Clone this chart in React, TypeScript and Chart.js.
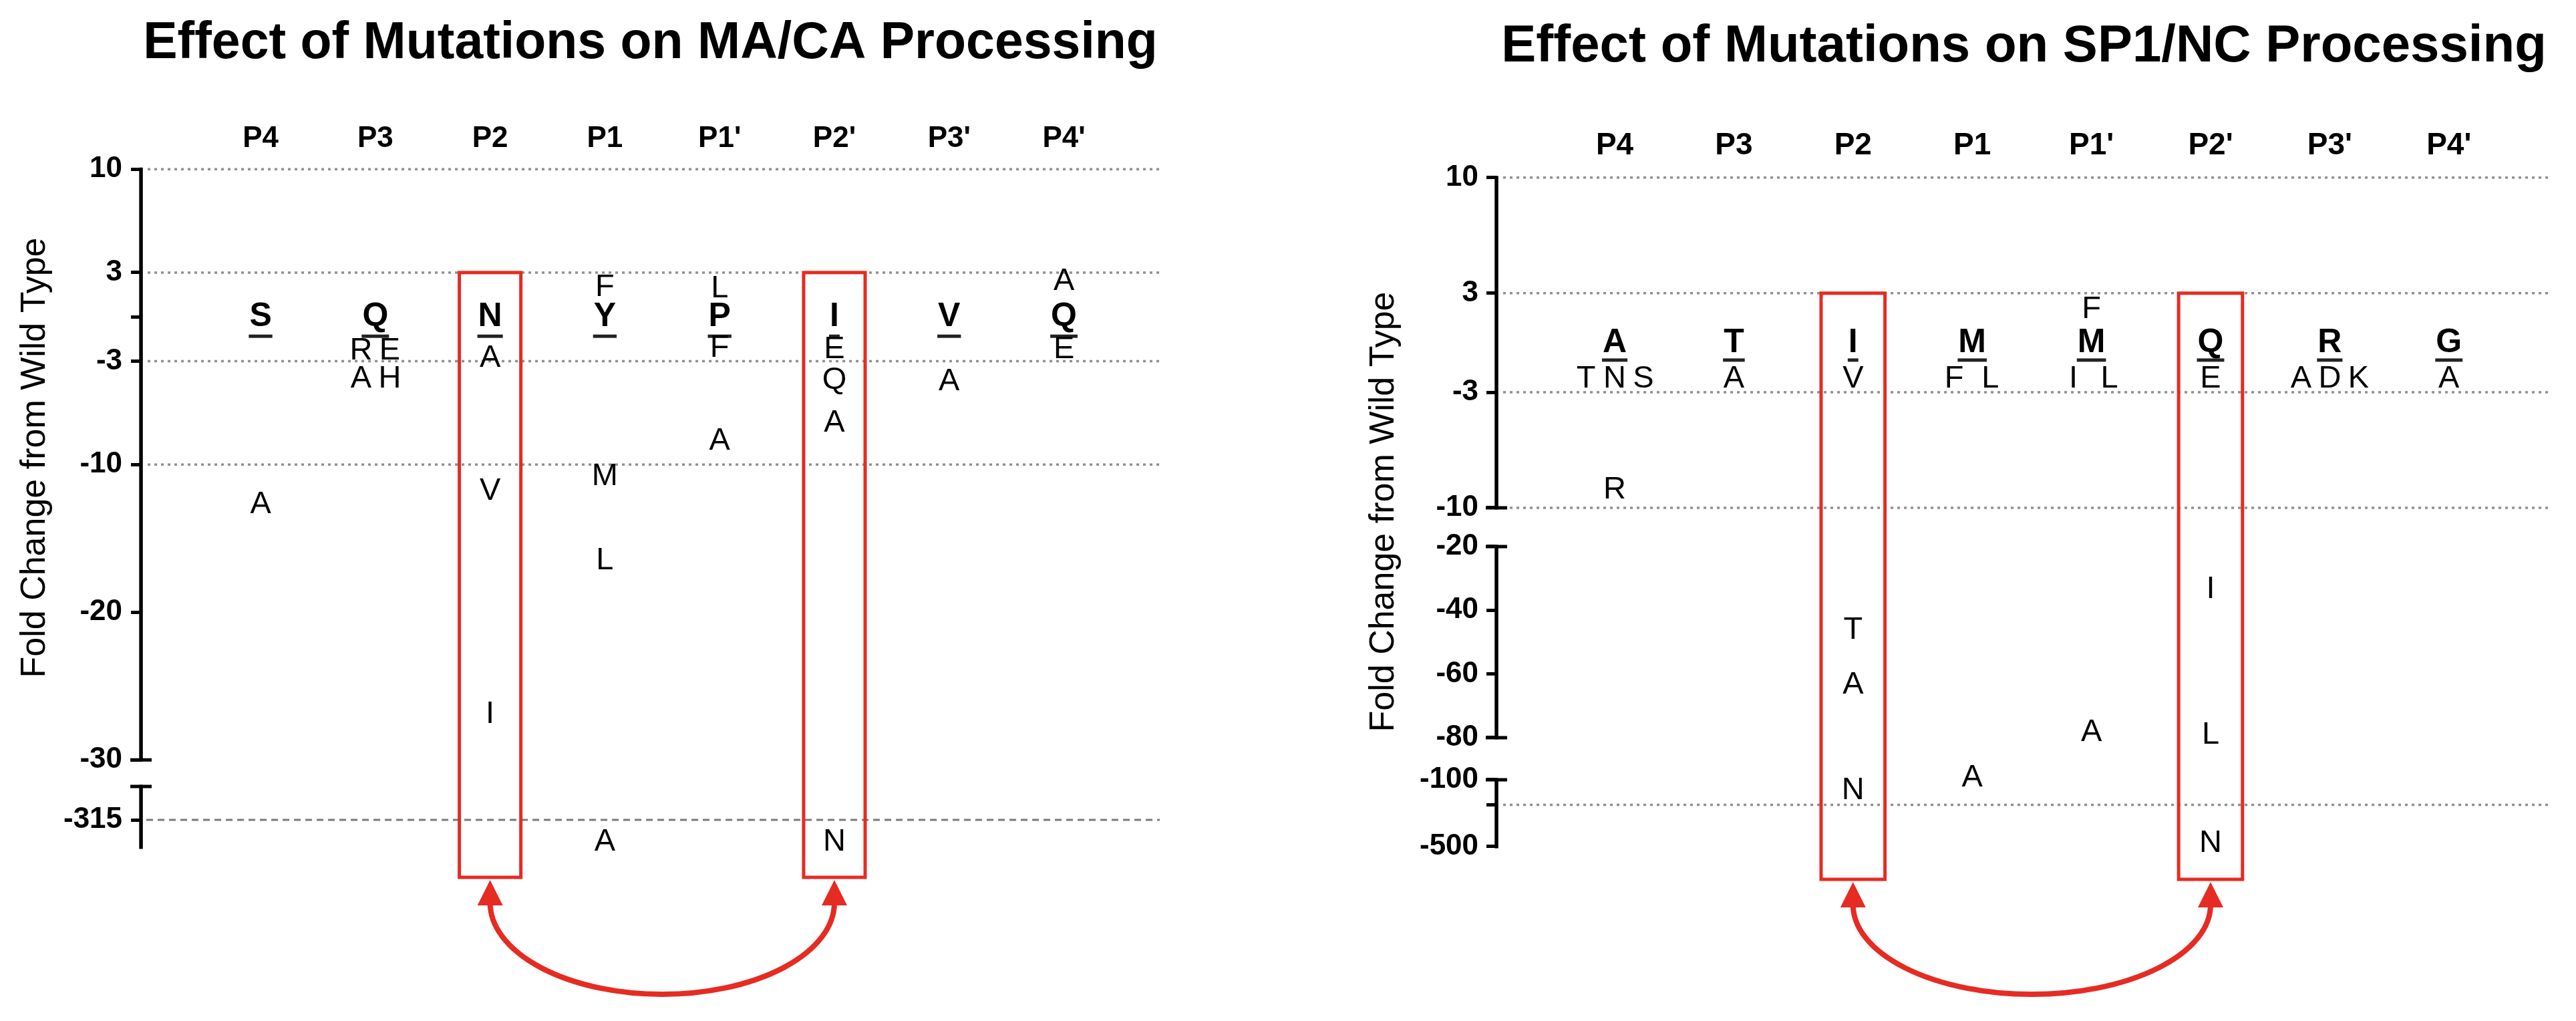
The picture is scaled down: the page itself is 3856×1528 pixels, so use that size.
import React, { useEffect, useRef } from 'react';
import { Chart, registerables } from 'chart.js';

Chart.register(...registerables);

const FONT = '"Liberation Sans", Arial, Helvetica, sans-serif';

// ---------- shared categories ----------
const POSITIONS = ['P4', 'P3', 'P2', 'P1', "P1'", "P2'", "P3'", "P4'"];
const SITE_INDEX = [1, 2, 3, 4, 5, 6, 7, 8];
const WT_LEVEL = 0;

// ---------- MA/CA panel data ----------
const MACA_WT = ['S', 'Q', 'N', 'Y', 'P', 'I', 'V', 'Q'];
const MACA_MUT_POS = [1, 2, 2, 2, 2, 3, 3, 3, 4, 4, 4, 4, 5, 5, 5, 6, 6, 6, 6, 7, 8, 8];
const MACA_MUT_RES = ['A', 'R', 'E', 'A', 'H', 'A', 'V', 'I', 'F', 'M', 'L', 'A', 'L', 'F', 'A', 'E', 'Q', 'A', 'N', 'A', 'A', 'E'];
const MACA_MUT_FOLD = [-12.7, -2.3, -2.3, -4.2, -4.2, -2.8, -11.8, -26.9, 2.0, -10.8, -16.5, -325, 1.9, -2.1, -8.4, -2.2, -4.3, -7.2, -325, -4.4, 2.4, -2.2];
const MACA_TICKS_UPPER = [10, 3, 0, -3, -10, -20, -30];
const MACA_TICKS_LOWER = [-315];
const MACA_DOTTED = [10, 3, -3, -10];
const MACA_DASHED = [-315];

// ---------- SP1/NC panel data ----------
const SPNC_WT = ['A', 'T', 'I', 'M', 'M', 'Q', 'R', 'G'];
const SPNC_MUT_POS = [1, 1, 1, 1, 2, 3, 3, 3, 3, 4, 4, 4, 5, 5, 5, 5, 6, 6, 6, 6, 7, 7, 7, 8];
const SPNC_MUT_RES = ['T', 'N', 'S', 'R', 'A', 'V', 'T', 'A', 'N', 'F', 'L', 'A', 'F', 'I', 'L', 'A', 'E', 'I', 'L', 'N', 'A', 'D', 'K', 'A'];
const SPNC_MUT_FOLD = [-2.2, -2.2, -2.2, -8.9, -2.2, -2.2, -46.2, -63.4, -164, -2.2, -2.2, -92.6, 2.0, -2.2, -2.2, -78.3, -2.2, -33.4, -79.2, -480, -2.2, -2.2, -2.2, -2.2];
const SPNC_TICKS_1 = [10, 3, -3, -10];
const SPNC_TICKS_2 = [-20, -40, -60, -80];
const SPNC_TICKS_3 = [-100, -250, -500];
const SPNC_DOTTED_1 = [10, 3, -3, -10];
const SPNC_DOTTED_3 = [-250];

const HIGHLIGHT_SITES = [3, 6];

type Seg = {
  id: string; min: number; max: number; weight: number;
  ticks: number[]; unlabeled: number[];
  line: [number, number]; caps: number[];
  dotted: number[]; dashed: number[];
};

type PanelCfg = {
  title: string; titleSize: number; titlePad: { top: number; bottom: number };
  xMin: number; xMax: number; xLabelSize: number; xPad: number;
  pad: { left: number; right: number; top: number; bottom: number };
  tickPad: number;
  wt: string[]; mutPos: number[]; mutRes: string[]; mutFold: number[];
  segs: Seg[];
  highlight: number[];
  yTitle: string; yTitleAt: [number, number];
  underlineOffset: number; pairGap: number; groupGap: number;
};

const MACA_PANEL: PanelCfg = {
  title: 'Effect of Mutations on MA/CA Processing', titleSize: 77, titlePad: { top: 20, bottom: 50 },
  xMin: -0.042, xMax: 8.835, xLabelSize: 44, xPad: 19,
  pad: { left: 82, right: 192, top: 0, bottom: 260 },
  tickPad: 13,
  wt: MACA_WT, mutPos: MACA_MUT_POS, mutRes: MACA_MUT_RES, mutFold: MACA_MUT_FOLD,
  segs: [
    { id: 'y1', min: -30.9, max: 10, weight: 904, ticks: MACA_TICKS_UPPER, unlabeled: [0], line: [10, -30], caps: [-30], dotted: MACA_DOTTED, dashed: [] },
    { id: 'y2', min: -327.3, max: -294, weight: 111, ticks: MACA_TICKS_LOWER, unlabeled: [], line: [-300, -327.3], caps: [-300], dotted: [], dashed: MACA_DASHED },
  ],
  highlight: HIGHLIGHT_SITES,
  yTitle: 'Fold Change from Wild Type', yTitleAt: [53, 685],
  underlineOffset: 29, pairGap: 43, groupGap: 43,
};

const SPNC_PANEL: PanelCfg = {
  title: 'Effect of Mutations on SP1/NC Processing', titleSize: 78, titlePad: { top: 24, bottom: 53 },
  xMin: 0.008, xMax: 8.859, xLabelSize: 46, xPad: 20,
  pad: { left: 185, right: 37, top: 0, bottom: 257 },
  tickPad: 12,
  wt: SPNC_WT, mutPos: SPNC_MUT_POS, mutRes: SPNC_MUT_RES, mutFold: SPNC_MUT_FOLD,
  segs: [
    { id: 'y1', min: -11.17, max: 10, weight: 523, ticks: SPNC_TICKS_1, unlabeled: [], line: [10, -10], caps: [-10], dotted: SPNC_DOTTED_1, dashed: [] },
    { id: 'y2', min: -93.0, max: -13.92, weight: 377, ticks: SPNC_TICKS_2, unlabeled: [], line: [-20, -80], caps: [-20, -80], dotted: [], dashed: [] },
    { id: 'y3', min: -516, max: -96, weight: 105, ticks: SPNC_TICKS_3, unlabeled: [-250], line: [-100, -500], caps: [-100], dotted: SPNC_DOTTED_3, dashed: [] },
  ],
  highlight: HIGHLIGHT_SITES,
  yTitle: 'Fold Change from Wild Type', yTitleAt: [144, 766],
  underlineOffset: 26, pairGap: 54, groupGap: 43,
};

const RED = '#e62b22';

function makePlugin(cfg: PanelCfg) {
  const line = (ctx: CanvasRenderingContext2D, x1: number, y1: number, x2: number, y2: number) => {
    ctx.beginPath(); ctx.moveTo(x1, y1); ctx.lineTo(x2, y2); ctx.stroke();
  };
  return {
    id: 'foldDecor',
    beforeDatasetsDraw(chart: any) {
      const ctx: CanvasRenderingContext2D = chart.ctx;
      const ca = chart.chartArea;
      ctx.save();
      for (const seg of cfg.segs) {
        const sc = chart.scales[seg.id];
        ctx.strokeStyle = '#8f8f8f'; ctx.lineWidth = 3.5; ctx.setLineDash([4, 6]);
        for (const v of seg.dotted) { const y = sc.getPixelForValue(v); line(ctx, ca.left + 10, y, ca.right, y); }
        ctx.strokeStyle = '#7a7a7a'; ctx.lineWidth = 3; ctx.setLineDash([10, 7]);
        for (const v of seg.dashed) { const y = sc.getPixelForValue(v); line(ctx, ca.left + 8, y, ca.right, y); }
      }
      ctx.setLineDash([]);
      const xs = chart.scales.x;
      const top = chart.scales[cfg.segs[0].id].getPixelForValue(3);
      const spacing = xs.getPixelForValue(2) - xs.getPixelForValue(1);
      const hw = spacing * 0.268;
      const bottom = ca.bottom + 45;
      ctx.strokeStyle = RED; ctx.lineWidth = 5;
      for (const p of cfg.highlight) {
        const cx = xs.getPixelForValue(p);
        ctx.strokeRect(cx - hw, top, hw * 2, bottom - top);
      }
      ctx.strokeStyle = '#000';
      for (const seg of cfg.segs) {
        const sc = chart.scales[seg.id];
        const y0 = sc.getPixelForValue(seg.line[0]);
        const y1 = sc.getPixelForValue(seg.line[1]);
        ctx.lineWidth = 5.5;
        line(ctx, ca.left, y0 - 2.5, ca.left, y1 + 2.5);
        ctx.lineWidth = 5;
        for (const c of seg.caps) { const y = sc.getPixelForValue(c); line(ctx, ca.left - 16, y, ca.left + 16, y); }
      }
      ctx.restore();
    },
    afterDatasetsDraw(chart: any) {
      const ctx: CanvasRenderingContext2D = chart.ctx;
      ctx.save();
      ctx.textAlign = 'center'; ctx.textBaseline = 'middle';
      chart.data.datasets.forEach((ds: any, di: number) => {
        const meta = chart.getDatasetMeta(di);
        const groups = new Map<string, number[]>();
        ds.data.forEach((p: any, i: number) => {
          const k = p.x + '|' + p.y;
          if (!groups.has(k)) groups.set(k, []);
          groups.get(k)!.push(i);
        });
        ctx.font = ds.isWT ? `bold 50px ${FONT}` : `47px ${FONT}`;
        groups.forEach((ids) => {
          const n = ids.length;
          const gap = n === 2 ? cfg.pairGap : cfg.groupGap;
          ids.forEach((i, k) => {
            const el = meta.data[i];
            const x = el.x + (k - (n - 1) / 2) * gap;
            const y = el.y;
            const txt = ds.residues[i];
            ctx.fillStyle = '#000';
            ctx.fillText(txt, x, y);
            if (ds.isWT) {
              const w = ctx.measureText(txt).width;
              ctx.fillStyle = '#222';
              ctx.fillRect(x - w / 2 - 1, y + cfg.underlineOffset - 2.5, w + 2, 5);
            }
          });
        });
      });
      ctx.restore();
    },
    afterDraw(chart: any) {
      const ctx: CanvasRenderingContext2D = chart.ctx;
      const ca = chart.chartArea;
      const xs = chart.scales.x;
      ctx.save();
      const xa = xs.getPixelForValue(cfg.highlight[0]);
      const xb = xs.getPixelForValue(cfg.highlight[1]);
      const tipY = ca.bottom + 49;
      const headLen = 38, headHalf = 19;
      const cy = tipY + headLen - 4;
      const ry = 1488 - cy;
      ctx.strokeStyle = RED; ctx.fillStyle = RED; ctx.lineWidth = 8;
      ctx.beginPath();
      ctx.ellipse((xa + xb) / 2, cy, (xb - xa) / 2, ry, 0, 0, Math.PI);
      ctx.stroke();
      for (const x of [xa, xb]) {
        ctx.beginPath();
        ctx.moveTo(x, tipY);
        ctx.lineTo(x + headHalf, tipY + headLen);
        ctx.lineTo(x - headHalf, tipY + headLen);
        ctx.closePath();
        ctx.fill();
      }
      ctx.fillStyle = '#000';
      ctx.font = `52px ${FONT}`;
      ctx.textAlign = 'center'; ctx.textBaseline = 'middle';
      ctx.translate(cfg.yTitleAt[0], cfg.yTitleAt[1]);
      ctx.rotate(-Math.PI / 2);
      ctx.fillText(cfg.yTitle, 0, 0);
      ctx.restore();
    },
  };
}

function buildConfig(cfg: PanelCfg): any {
  const datasets: any[] = [];
  datasets.push({
    label: 'Wild type', isWT: true,
    data: cfg.wt.map((_, i) => ({ x: SITE_INDEX[i], y: WT_LEVEL })),
    residues: cfg.wt, yAxisID: cfg.segs[0].id, pointRadius: 0, pointHoverRadius: 0, showLine: false,
  });
  cfg.segs.forEach((seg) => {
    const idx = cfg.mutFold.map((_, i) => i).filter((i) => cfg.mutFold[i] >= seg.min && cfg.mutFold[i] <= seg.max);
    if (!idx.length) return;
    datasets.push({
      label: 'Mutants ' + seg.id, isWT: false,
      data: idx.map((i) => ({ x: cfg.mutPos[i], y: cfg.mutFold[i] })),
      residues: idx.map((i) => cfg.mutRes[i]),
      yAxisID: seg.id, pointRadius: 0, pointHoverRadius: 0, showLine: false,
    });
  });
  const scales: any = {
    x: {
      type: 'linear', position: 'top', min: cfg.xMin, max: cfg.xMax,
      grid: { display: false, drawTicks: false }, border: { display: false },
      afterBuildTicks: (s: any) => { s.ticks = SITE_INDEX.map((v) => ({ value: v })); },
      ticks: {
        autoSkip: false, maxRotation: 0, padding: cfg.xPad, color: '#000',
        font: { family: FONT, size: cfg.xLabelSize, weight: 'bold' },
        callback: (v: number) => POSITIONS[Math.round(v) - 1] ?? '',
      },
    },
  };
  // stacked left axes are placed top-down in reverse definition order, so define the lowest segment first
  [...cfg.segs].reverse().forEach((seg) => {
    scales[seg.id] = {
      type: 'linear', position: 'left', stack: 'fold', stackWeight: seg.weight,
      min: seg.min, max: seg.max,
      border: { display: false },
      grid: { display: true, drawOnChartArea: false, drawTicks: true, tickLength: 15, tickWidth: 5, tickColor: '#000' },
      afterBuildTicks: (s: any) => { s.ticks = seg.ticks.map((v) => ({ value: v })); },
      ticks: {
        autoSkip: false, padding: cfg.tickPad, color: '#000',
        font: { family: FONT, size: 44, weight: 'bold' },
        callback: (v: number) => (seg.unlabeled.includes(v) ? '' : String(v)),
      },
    };
  });
  return {
    type: 'scatter',
    data: { datasets },
    options: {
      responsive: false, maintainAspectRatio: false, animation: false, devicePixelRatio: 1,
      events: [],
      layout: { padding: cfg.pad },
      plugins: {
        legend: { display: false },
        tooltip: { enabled: false },
        title: {
          display: true, text: cfg.title, fullSize: false, color: '#000',
          font: { family: FONT, size: cfg.titleSize, weight: 'bold', lineHeight: 1.2 },
          padding: cfg.titlePad,
        },
      },
      scales,
    },
    plugins: [makePlugin(cfg)],
  };
}

function Panel({ cfg }: { cfg: PanelCfg }) {
  const ref = useRef<HTMLCanvasElement>(null);
  useEffect(() => {
    const chart = new Chart(ref.current as HTMLCanvasElement, buildConfig(cfg));
    return () => chart.destroy();
  }, [cfg]);
  return <canvas ref={ref} width={1928} height={1528} style={{ display: 'block', width: 1928, height: 1528 }} />;
}

export default function App() {
  return (
    <div style={{ position: 'fixed', left: 0, top: 0, width: 3856, height: 1528, display: 'flex', background: '#fff' }}>
      <Panel cfg={MACA_PANEL} />
      <Panel cfg={SPNC_PANEL} />
    </div>
  );
}
